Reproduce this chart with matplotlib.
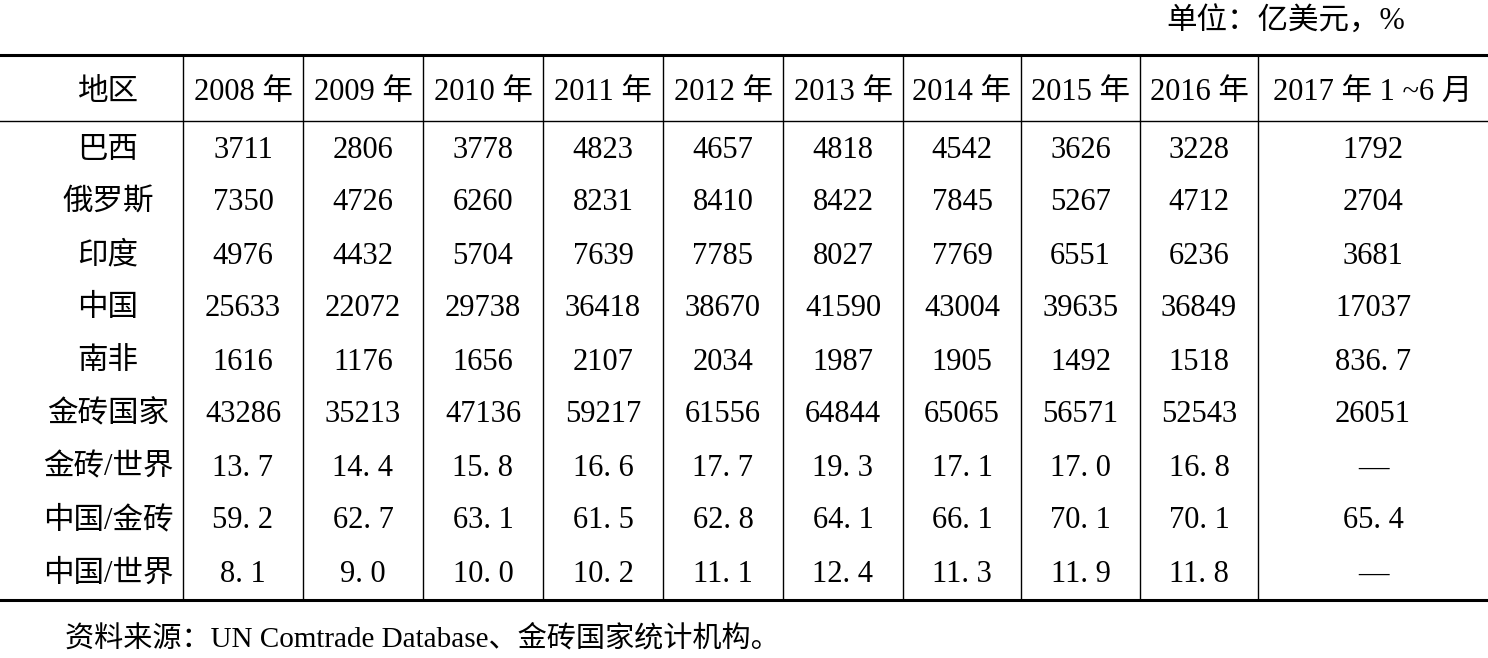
import matplotlib
matplotlib.use("Agg")
import matplotlib.pyplot as plt

plt.rcParams['font.family'] = ['Liberation Serif', 'Noto Sans CJK SC', 'DejaVu Sans']

columns = ["地区", "2008 年", "2009 年", "2010 年", "2011 年", "2012 年", "2013 年",
           "2014 年", "2015 年", "2016 年", "2017 年 1 ~6 月"]
regions = ["巴西", "俄罗斯", "印度", "中国", "南非", "金砖国家", "金砖/世界", "中国/金砖", "中国/世界"]
brazil = ["3711", "2806", "3778", "4823", "4657", "4818", "4542", "3626", "3228", "1792"]
russia = ["7350", "4726", "6260", "8231", "8410", "8422", "7845", "5267", "4712", "2704"]
india = ["4976", "4432", "5704", "7639", "7785", "8027", "7769", "6551", "6236", "3681"]
china = ["25633", "22072", "29738", "36418", "38670", "41590", "43004", "39635", "36849", "17037"]
safrica = ["1616", "1176", "1656", "2107", "2034", "1987", "1905", "1492", "1518", "836. 7"]
brics = ["43286", "35213", "47136", "59217", "61556", "64844", "65065", "56571", "52543", "26051"]
brics_world = ["13. 7", "14. 4", "15. 8", "16. 6", "17. 7", "19. 3", "17. 1", "17. 0", "16. 8", "—"]
china_brics = ["59. 2", "62. 7", "63. 1", "61. 5", "62. 8", "64. 1", "66. 1", "70. 1", "70. 1", "65. 4"]
china_world = ["8. 1", "9. 0", "10. 0", "10. 2", "11. 1", "12. 4", "11. 3", "11. 9", "11. 8", "—"]
rows = [brazil, russia, india, china, safrica, brics, brics_world, china_brics, china_world]

unit_text = "单位：亿美元，%"
source_text = "资料来源：UN Comtrade Database、金砖国家统计机构。"

W, H = 1488, 658
fig = plt.figure(figsize=(W / 100, H / 100), dpi=100)
ax = fig.add_axes([0, 0, 1, 1])
ax.set_xlim(0, W)
ax.set_ylim(H, 0)
ax.axis("off")

xb = [0, 183, 303, 423, 543, 663, 783, 903, 1021, 1140, 1258, W]
centers = [(xb[i] + xb[i + 1]) / 2 for i in range(len(xb) - 1)]
centers[0] = 108
fs = 22

ax.text(1405, 22, unit_text, ha="right", va="center", fontsize=fs)
ax.axhline(55, color="black", lw=2.2)
ax.axhline(121, color="black", lw=1.0)
ax.axhline(600, color="black", lw=2.2)
for x in xb[1:-1]:
    ax.plot([x, x], [55, 600], color="black", lw=1.0)

for c, label in zip(centers, columns):
    ax.text(c, 92, label, ha="center", va="center", fontsize=fs)

y0, dy = 150, 53
for r, (name, vals) in enumerate(zip(regions, rows)):
    y = y0 + r * dy
    ax.text(centers[0], y, name, ha="center", va="center", fontsize=fs)
    for c, v in zip(centers[1:], vals):
        ax.text(c, y, v, ha="center", va="center", fontsize=fs)

ax.text(65, 639, source_text, ha="left", va="center", fontsize=fs - 1)

fig.savefig("out.png", dpi=100)
